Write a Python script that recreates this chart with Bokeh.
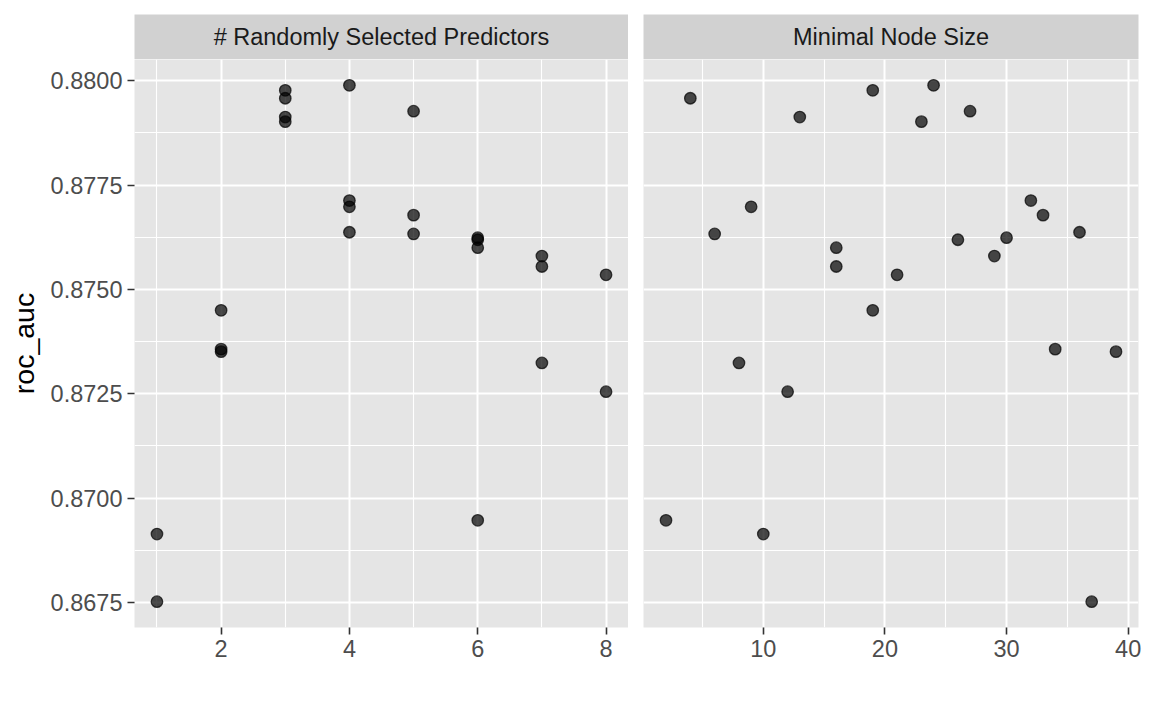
from bokeh.plotting import figure
from bokeh.layouts import row, column
from bokeh.models import Range1d, FixedTicker, PrintfTickFormatter, ColumnDataSource
from bokeh.embed import file_html
from bokeh.resources import INLINE
from bokeh.core.properties import value

# ---- data ----
mtry = [1, 1, 2, 2, 2, 3, 3, 3, 3, 4, 4, 4, 4, 5, 5, 5, 6, 6, 6, 6, 7, 7, 7, 8, 8]
min_n = [10, 37, 19, 34, 39, 19, 4, 13, 23, 24, 32, 9, 36, 27, 33, 6, 30, 26, 16, 2, 29, 16, 8, 21, 12]
roc_auc = [0.86914, 0.86752, 0.87450, 0.87357, 0.87351,
           0.87977, 0.87958, 0.87913, 0.87902,
           0.87989, 0.87713, 0.87698, 0.87637,
           0.87927, 0.87678, 0.87633,
           0.87624, 0.87619, 0.87600, 0.86947,
           0.87580, 0.87555, 0.87324,
           0.87535, 0.87255]

strip_labels = ["# Randomly Selected Predictors", "Minimal Node Size"]
x_ticks_left = [2, 4, 6, 8]
x_minor_left = [1, 3, 5, 7]
x_ticks_right = [10, 20, 30, 40]
x_minor_right = [5, 15, 25, 35]
y_ticks = [0.8675, 0.8700, 0.8725, 0.8750, 0.8775, 0.8800]
y_minor = [0.86875, 0.87125, 0.87375, 0.87625, 0.87875]

FONT = "Liberation Sans"
PANEL_BG = "#E5E5E5"
STRIP_BG = "#D1D1D1"
TXT = "23.5px"


def expand(vals, frac=0.05):
    lo, hi = min(vals), max(vals)
    pad = (hi - lo) * frac
    return lo - pad, hi + pad


ylo, yhi = expand(roc_auc)

source = ColumnDataSource(dict(mtry=mtry, min_n=min_n, roc_auc=roc_auc))

FRAME_H = 568
STRIP_H = 45
LEFT_B = 134
GAP = 15
RIGHT_B = 8


def make_strip(label, fw, left, right):
    s = figure(frame_width=fw, frame_height=STRIP_H, min_border_left=left,
               min_border_right=right, min_border_top=14, min_border_bottom=0,
               x_range=Range1d(0, 1), y_range=Range1d(0, 1),
               x_axis_type=None, y_axis_type=None,
               toolbar_location=None, output_backend="svg",
               background_fill_color=STRIP_BG, border_fill_color="white",
               outline_line_color=None)
    s.text(x=[0.5], y=[0.5], text=[label], text_align="center",
           text_baseline="middle", text_font=value(FONT),
           text_font_size=TXT, text_color="#1A1A1A")
    return s


def make_panel(xcol, xr, ticks, minor, fw, left, right, show_y):
    p = figure(frame_width=fw, frame_height=FRAME_H, min_border_left=left,
               min_border_right=right, min_border_top=0, min_border_bottom=60,
               x_range=Range1d(*xr), y_range=Range1d(ylo, yhi),
               toolbar_location=None, output_backend="svg",
               background_fill_color=PANEL_BG, border_fill_color="white",
               outline_line_color=None)
    xt = FixedTicker(ticks=ticks, minor_ticks=minor)
    yt = FixedTicker(ticks=y_ticks, minor_ticks=y_minor)
    p.xaxis.ticker = xt
    p.xgrid.ticker = xt
    p.yaxis.ticker = yt
    p.ygrid.ticker = yt
    p.yaxis.formatter = PrintfTickFormatter(format="%.4f")
    for ax in p.axis:
        ax.axis_line_color = None
        ax.major_tick_line_color = "#333333"
        ax.major_tick_line_width = 1.6
        ax.major_tick_out = 7
        ax.major_tick_in = 0
        ax.minor_tick_line_color = None
        ax.major_label_text_font = FONT
        ax.major_label_text_font_size = TXT
        ax.major_label_text_color = "#4D4D4D"
        ax.major_label_standoff = 5
    for g in p.grid:
        g.grid_line_color = "white"
        g.grid_line_width = 2
        g.minor_grid_line_color = "white"
        g.minor_grid_line_width = 1.1
    if show_y:
        p.yaxis.axis_label = "roc_auc"
        p.yaxis.axis_label_text_font = FONT
        p.yaxis.axis_label_text_font_size = "28.5px"
        p.yaxis.axis_label_text_font_style = "normal"
        p.yaxis.axis_label_text_color = "black"
        p.yaxis.axis_label_standoff = 8
    else:
        p.yaxis.visible = False
    p.scatter(x=xcol, y="roc_auc", source=source, size=11.5,
              fill_color="black", fill_alpha=0.7,
              line_color="black", line_alpha=0.7, line_width=1.3)
    return p


p1 = make_panel("mtry", expand(mtry), x_ticks_left, x_minor_left, 494, LEFT_B, 0, True)
p2 = make_panel("min_n", expand(min_n), x_ticks_right, x_minor_right, 495, GAP, RIGHT_B, False)
s1 = make_strip(strip_labels[0], 494, LEFT_B, 0)
s2 = make_strip(strip_labels[1], 495, GAP, RIGHT_B)

layout = column(row(s1, s2), row(p1, p2))

open("out.html", "w").write(file_html(layout, INLINE))
